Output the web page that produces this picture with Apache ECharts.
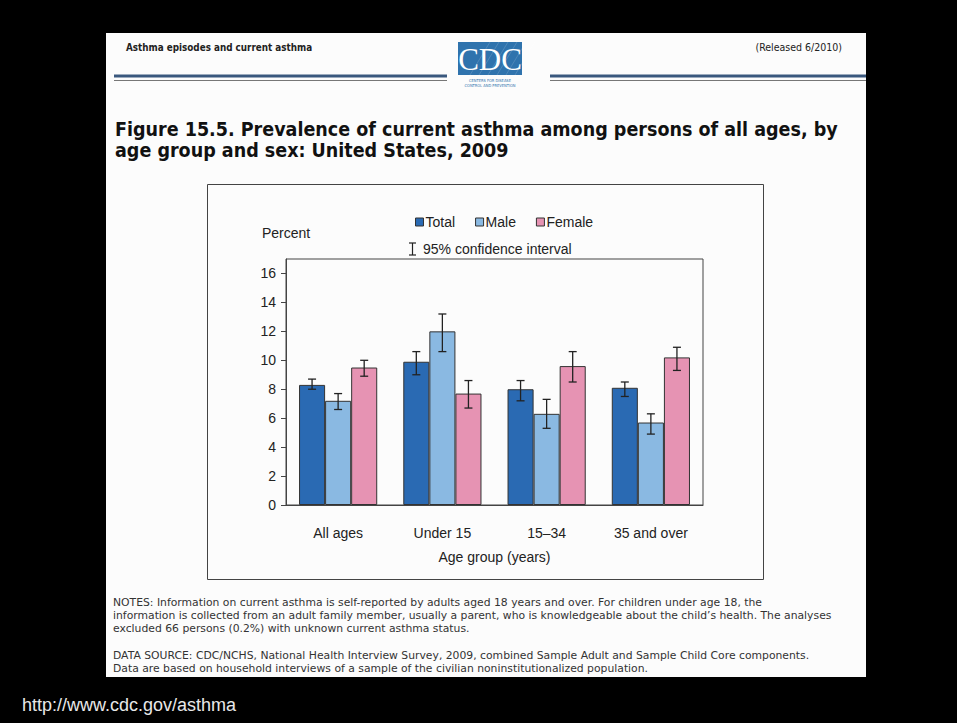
<!DOCTYPE html>
<html>
<head>
<meta charset="utf-8">
<title>Figure 15.5 current asthma by age group and sex</title>
<script src="https://cdn.jsdelivr.net/npm/echarts@6/dist/echarts.min.js"></script>
<style>
  html, body { margin: 0; padding: 0; background: #000; }
  #main { width: 957px; height: 723px; }
</style>
</head>
<body>
<div id="main"></div>
<script>
// values (percent)
const categories = ['All ages', 'Under 15', '15–34', '35 and over']
const seriesNames = ['Total', 'Male', 'Female']
const totalValues = [8.3, 9.9, 8.0, 8.1]
const maleValues = [7.2, 12.0, 6.3, 5.7]
const femaleValues = [9.5, 7.7, 9.6, 10.2]
// 95% confidence interval bounds
const totalLow = [8.0, 9.0, 7.2, 7.5]
const totalHigh = [8.7, 10.6, 8.6, 8.5]
const maleLow = [6.6, 10.6, 5.3, 4.9]
const maleHigh = [7.7, 13.2, 7.3, 6.3]
const femaleLow = [8.9, 6.7, 8.5, 9.3]
const femaleHigh = [10.0, 8.6, 10.6, 10.9]
const yMax = 17
const yInterval = 2

const colors = ['#2a6ab3', '#8ab9e2', '#e693b3']
const axisFont = 'Liberation Sans, Arial, sans-serif'
const noteFont = 'DejaVu Sans Condensed, DejaVu Sans, sans-serif'
const plainFont = 'DejaVu Sans, sans-serif'

let chart = echarts.init(document.getElementById('main'), null, { renderer: 'svg' })

function errorBars(offsetIndex) {
  return function (params, api) {
    let i = api.value(0)
    let lo = api.coord([i, api.value(1)])
    let hi = api.coord([i, api.value(2)])
    let barW = api.size([1, 0])[0] * 0.75 / 3
    let cx = lo[0] + (offsetIndex - 1) * barW
    let cap = 4
    let st = { stroke: '#222', lineWidth: 1.3 }
    return {
      type: 'group',
      children: [
        { type: 'line', shape: { x1: cx, y1: hi[1], x2: cx, y2: lo[1] }, style: st },
        { type: 'line', shape: { x1: cx - cap, y1: hi[1], x2: cx + cap, y2: hi[1] }, style: st },
        { type: 'line', shape: { x1: cx - cap, y1: lo[1], x2: cx + cap, y2: lo[1] }, style: st }
      ]
    }
  }
}

function ciData(low, high) {
  return low.map(function (v, i) { return [i, v, high[i]] })
}

function txt(x, y, text, font, fill, align) {
  return {
    type: 'text', x: x, y: y, silent: true,
    style: { text: text, font: font, fill: fill || '#222', textAlign: align || 'left', align: align || 'left', textVerticalAlign: 'middle', verticalAlign: 'middle' }
  }
}

const valueLists = [totalValues, maleValues, femaleValues]
const ciLists = [ciData(totalLow, totalHigh), ciData(maleLow, maleHigh), ciData(femaleLow, femaleHigh)]

let series = []
seriesNames.forEach(function (name, k) {
  series.push({
    name: name,
    type: 'bar',
    data: valueLists[k],
    barGap: '0%',
    barCategoryGap: '25%',
    itemStyle: { color: colors[k], borderColor: '#333', borderWidth: 1 },
    emphasis: { disabled: true }
  })
})
seriesNames.forEach(function (name, k) {
  series.push({
    type: 'custom',
    name: name + ' CI',
    data: ciLists[k],
    encode: { x: 0, y: [1, 2] },
    renderItem: errorBars(k),
    z: 5,
    silent: true
  })
})

// faint streaks on the CDC logo
let logoStreaks = []
for (let s = 0; s < 6; s++) {
  logoStreaks.push({
    type: 'line', silent: true,
    shape: { x1: 470 + s * 9, y1: 75, x2: 490 + s * 9, y2: 42 },
    style: { stroke: 'rgba(255,255,255,0.15)', lineWidth: 1 }
  })
}

let option = {
  backgroundColor: '#000',
  animation: false,
  legend: {
    data: seriesNames,
    left: 410,
    top: 210,
    icon: 'rect',
    itemWidth: 8,
    itemHeight: 8,
    itemGap: 20,
    selectedMode: false,
    itemStyle: { borderColor: '#333', borderWidth: 1 },
    textStyle: { fontFamily: axisFont, fontSize: 14, color: '#222', padding: [0, 0, 0, -3] }
  },
  grid: {
    left: 286,
    right: 254,
    top: 259,
    bottom: 218,
    show: true,
    borderColor: '#444',
    borderWidth: 1,
    backgroundColor: 'transparent'
  },
  xAxis: {
    type: 'category',
    data: categories,
    name: 'Age group (years)',
    nameLocation: 'middle',
    nameGap: 45,
    nameTextStyle: { fontFamily: axisFont, fontSize: 14, color: '#222' },
    axisLine: { lineStyle: { color: '#444' } },
    axisTick: { show: false },
    axisLabel: { fontFamily: axisFont, fontSize: 14, color: '#222', margin: 21 }
  },
  yAxis: {
    type: 'value',
    min: 0,
    max: yMax,
    interval: yInterval,
    splitLine: { show: false },
    axisLine: { show: true, lineStyle: { color: '#444' } },
    axisTick: { show: true, length: 5, lineStyle: { color: '#444' } },
    axisLabel: { fontFamily: axisFont, fontSize: 14, color: '#222', margin: 10, showMaxLabel: false }
  },
  graphic: [
    // the page
    { type: 'rect', shape: { x: 106, y: 33, width: 760, height: 644 }, style: { fill: '#fcfcfc' }, z: -10, silent: true },
    txt(126, 47, 'Asthma episodes and current asthma', 'bold 9.8px ' + noteFont, '#222'),
    txt(842, 47, '(Released 6/2010)', '10.5px ' + noteFont, '#222', 'right'),
    // CDC logo
    { type: 'rect', shape: { x: 458, y: 42, width: 64, height: 33 }, style: { fill: '#2f73ad' }, silent: true }
  ].concat(logoStreaks).concat([
    txt(490, 59, 'CDC', '31px Liberation Serif, serif', '#fff', 'center'),
    txt(490, 80, 'CENTERS FOR DISEASE', '4px ' + noteFont, '#2f73ad', 'center'),
    txt(490, 85, 'CONTROL AND PREVENTION', '4px ' + noteFont, '#2f73ad', 'center'),
    { type: 'line', shape: { x1: 114, y1: 76, x2: 447, y2: 76 }, style: { stroke: '#3a587e', lineWidth: 3 }, silent: true },
    { type: 'line', shape: { x1: 114, y1: 80.5, x2: 447, y2: 80.5 }, style: { stroke: '#777', lineWidth: 1 }, silent: true },
    { type: 'line', shape: { x1: 550, y1: 76, x2: 866, y2: 76 }, style: { stroke: '#3a587e', lineWidth: 3 }, silent: true },
    { type: 'line', shape: { x1: 550, y1: 80.5, x2: 866, y2: 80.5 }, style: { stroke: '#777', lineWidth: 1 }, silent: true },
    // title
    txt(115, 129, 'Figure 15.5. Prevalence of current asthma among persons of all ages, by', 'bold 19.5px ' + noteFont, '#111'),
    txt(115, 150, 'age group and sex: United States, 2009', 'bold 19.5px ' + noteFont, '#111'),
    // chart frame
    { type: 'rect', shape: { x: 207.5, y: 184.5, width: 556, height: 395 }, style: { fill: 'none', stroke: '#444', lineWidth: 1 }, silent: true },
    txt(262, 233, 'Percent', '14px ' + axisFont, '#222'),
    // confidence interval key
    { type: 'line', shape: { x1: 412.5, y1: 243, x2: 412.5, y2: 255 }, style: { stroke: '#222', lineWidth: 1.2 }, silent: true },
    { type: 'line', shape: { x1: 409, y1: 243, x2: 416, y2: 243 }, style: { stroke: '#222', lineWidth: 1.2 }, silent: true },
    { type: 'line', shape: { x1: 409, y1: 255, x2: 416, y2: 255 }, style: { stroke: '#222', lineWidth: 1.2 }, silent: true },
    txt(423, 249, '95% confidence interval', '14px ' + axisFont, '#222'),
    // notes
    txt(113, 602, 'NOTES: Information on current asthma is self-reported by adults aged 18 years and over. For children under age 18, the', '10.8px ' + plainFont, '#333'),
    txt(113, 615, 'information is collected from an adult family member, usually a parent, who is knowledgeable about the child\u2019s health. The analyses', '10.8px ' + plainFont, '#333'),
    txt(113, 628, 'excluded 66 persons (0.2%) with unknown current asthma status.', '10.8px ' + plainFont, '#333'),
    txt(113, 655, 'DATA SOURCE: CDC/NCHS, National Health Interview Survey, 2009, combined Sample Adult and Sample Child Core components.', '10.8px ' + plainFont, '#333'),
    txt(113, 668, 'Data are based on household interviews of a sample of the civilian noninstitutionalized population.', '10.8px ' + plainFont, '#333'),
    txt(22, 705, 'http://www.cdc.gov/asthma', '18px ' + axisFont, '#e8e8e8')
  ]),
  series: series
}

chart.setOption(option)
</script>
</body>
</html>
